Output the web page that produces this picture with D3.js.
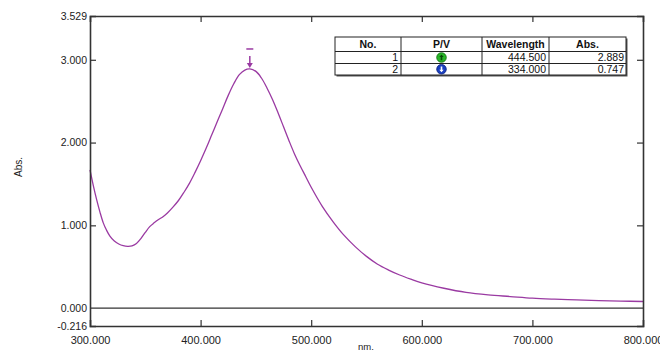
<!DOCTYPE html>
<html>
<head>
<meta charset="utf-8">
<script src="https://cdn.jsdelivr.net/npm/d3@7/dist/d3.min.js"></script>
<style>
  html, body { margin: 0; padding: 0; background: #fff; }
  svg { display: block; font-family: "Liberation Sans", Arial, sans-serif; }
</style>
</head>
<body>
<svg id="chart" width="660" height="352"></svg>
<script>
// ---- data ----
const wavelengths = [300,303,306,309,312,315,318,322,326,330,334,338,342,346,350,354,358,362,366,370,375,380,385,390,395,400,405,410,415,420,425,430,435,440,444.5,450,455,460,465,470,475,480,485,490,495,500,510,520,530,540,550,560,570,580,590,600,620,640,660,680,700,720,740,760,780,800];
const absorbance = [1.67,1.48,1.31,1.16,1.03,0.94,0.87,0.81,0.775,0.755,0.747,0.752,0.78,0.84,0.915,0.985,1.03,1.07,1.105,1.15,1.22,1.30,1.40,1.51,1.64,1.78,1.93,2.09,2.25,2.41,2.57,2.71,2.82,2.876,2.889,2.86,2.78,2.66,2.52,2.36,2.19,2.02,1.86,1.72,1.59,1.46,1.23,1.04,0.875,0.74,0.625,0.53,0.46,0.40,0.35,0.305,0.24,0.19,0.16,0.14,0.12,0.108,0.099,0.091,0.085,0.08];
const xTicks = [300,400,500,600,700,800];
const yTicks = [-0.216,0.000,1.000,2.000,3.000,3.529];
const yTickLabels = ["-0.216","0.000","1.000","2.000","3.000","3.529"];
const tableHeaders = ["No.","P/V","Wavelength","Abs."];
const tableNo = [1,2];
const tableType = ["peak","valley"];
const tableWavelength = [444.5,334.0];
const tableAbs = [2.889,0.747];
const peakWavelength = 444.5;
const peakAbs = 2.889;

// ---- layout ----
const svg = d3.select("#chart");
const L = 90, R = 643, T = 16, B = 326;
const x = d3.scaleLinear().domain([300,800]).range([L,R]);
const y = d3.scaleLinear().domain([-0.216,3.529]).range([B,T]);
const axisColor = "#333";
const lineColor = "#9a3aa2";

// zero line
svg.append("line").attr("x1",L).attr("x2",R).attr("y1",y(0)).attr("y2",y(0))
  .attr("stroke",axisColor).attr("stroke-width",1.3);

// curve
const line = d3.line().x((d,i)=>x(wavelengths[i])).y(d=>y(d)).curve(d3.curveCatmullRom.alpha(0.5));
svg.append("path").datum(absorbance).attr("d",line)
  .attr("fill","none").attr("stroke",lineColor).attr("stroke-width",1.3);

// peak marker
const px = x(peakWavelength), py = y(peakAbs);
svg.append("line").attr("x1",px-3.5).attr("x2",px+3.5).attr("y1",py-20).attr("y2",py-20)
  .attr("stroke",lineColor).attr("stroke-width",1.5);
svg.append("line").attr("x1",px).attr("x2",px).attr("y1",py-13).attr("y2",py-3)
  .attr("stroke",lineColor).attr("stroke-width",1.5);
svg.append("path").attr("d",`M${px-3},${py-6} L${px+3},${py-6} L${px},${py-1} Z`).attr("fill",lineColor);

// axes (ticks inside)
const gB = svg.append("g").attr("transform",`translate(0,${B})`)
  .call(d3.axisBottom(x).tickValues(xTicks).tickSize(-6).tickFormat(d3.format(".3f")).tickPadding(10));
const gT = svg.append("g").attr("transform",`translate(0,${T})`)
  .call(d3.axisTop(x).tickValues(xTicks).tickSize(-6).tickFormat(""));
const gL = svg.append("g").attr("transform",`translate(${L},0)`)
  .call(d3.axisLeft(y).tickValues(yTicks).tickSize(-6).tickFormat((d,i)=>yTickLabels[i]).tickPadding(3));
const gR = svg.append("g").attr("transform",`translate(${R},0)`)
  .call(d3.axisRight(y).tickValues(yTicks).tickSize(-6).tickFormat(""));
[gB,gT,gL,gR].forEach(g=>{
  g.select(".domain").attr("stroke",axisColor).attr("stroke-width",1.6);
  g.selectAll(".tick line").attr("stroke",axisColor).attr("stroke-width",1.2);
  g.selectAll("text").attr("fill","#222").style("font-size","11px").style("font-family","Liberation Sans, Arial, sans-serif");
});
// hide end ticks that coincide with frame
gB.selectAll(".tick").filter(d=>d===300||d===800).select("line").remove();
gT.selectAll(".tick").filter(d=>d===300||d===800).select("line").remove();
gL.selectAll(".tick").filter(d=>d===-0.216||d===3.529||d===0).select("line").remove();
gR.selectAll(".tick").filter(d=>d===-0.216||d===3.529||d===0).select("line").remove();
gL.selectAll("text").style("font-size","10.5px");

// axis titles
svg.append("text").attr("x",366).attr("y",350).attr("text-anchor","middle")
  .style("font-size","9.5px").attr("fill","#222").text("nm.");
svg.append("text").attr("transform",`translate(19,167) rotate(-90)`).attr("text-anchor","middle")
  .attr("dominant-baseline","middle").style("font-size","10px").attr("fill","#222").text("Abs.");

// table
const colX = [335,401,482,549,626];
const rowY = [37,51.5,63.5,75];
const tg = svg.append("g");
tg.append("rect").attr("x",colX[0]+1.5).attr("y",rowY[0]+1.5).attr("width",colX[4]-colX[0]).attr("height",rowY[3]-rowY[0]).attr("fill","#555");
tg.append("rect").attr("x",colX[0]).attr("y",rowY[0]).attr("width",colX[4]-colX[0]).attr("height",rowY[3]-rowY[0])
  .attr("fill","#fff").attr("stroke","#222").attr("stroke-width",1);
colX.slice(1,4).forEach(cx=>tg.append("line").attr("x1",cx).attr("x2",cx).attr("y1",rowY[0]).attr("y2",rowY[3]).attr("stroke","#222"));
rowY.slice(1,3).forEach(ry=>tg.append("line").attr("x1",colX[0]).attr("x2",colX[4]).attr("y1",ry).attr("y2",ry).attr("stroke","#222"));
tableHeaders.forEach((h,i)=>{
  tg.append("text").attr("x",(colX[i]+colX[i+1])/2).attr("y",(rowY[0]+rowY[1])/2+3.7)
    .attr("text-anchor","middle").style("font-size","10.5px").style("font-weight","bold").attr("fill","#111").text(h);
});
const f3 = d3.format(".3f");
tableNo.forEach((n,r)=>{
  const cy = (rowY[r+1]+rowY[r+2])/2;
  tg.append("text").attr("x",colX[1]-3).attr("y",cy+3.6).attr("text-anchor","end").style("font-size","10.5px").attr("fill","#111").text(n);
  tg.append("text").attr("x",colX[3]-3).attr("y",cy+3.6).attr("text-anchor","end").style("font-size","10.5px").attr("fill","#111").text(f3(tableWavelength[r]));
  tg.append("text").attr("x",colX[4]-2).attr("y",cy+3.6).attr("text-anchor","end").style("font-size","10.5px").attr("fill","#111").text(f3(tableAbs[r]));
  const ix = (colX[1]+colX[2])/2;
  const isPeak = tableType[r]==="peak";
  tg.append("circle").attr("cx",ix).attr("cy",cy).attr("r",4.8)
    .attr("fill",isPeak?"#2ab52a":"#1a3fc0").attr("stroke",isPeak?"#0d6e0d":"#0c2280").attr("stroke-width",0.8);
  if(isPeak){
    tg.append("path").attr("d",`M${ix},${cy-3} L${ix+2.2},${cy-0.6} L${ix+0.8},${cy-0.6} L${ix+0.8},${cy+2.8} L${ix-0.8},${cy+2.8} L${ix-0.8},${cy-0.6} L${ix-2.2},${cy-0.6} Z`).attr("fill","#0a4a0a");
  } else {
    tg.append("path").attr("d",`M${ix},${cy+3} L${ix+2.2},${cy+0.6} L${ix+0.8},${cy+0.6} L${ix+0.8},${cy-2.8} L${ix-0.8},${cy-2.8} L${ix-0.8},${cy+0.6} L${ix-2.2},${cy+0.6} Z`).attr("fill","#ffffff");
  }
});
</script>
</body>
</html>
